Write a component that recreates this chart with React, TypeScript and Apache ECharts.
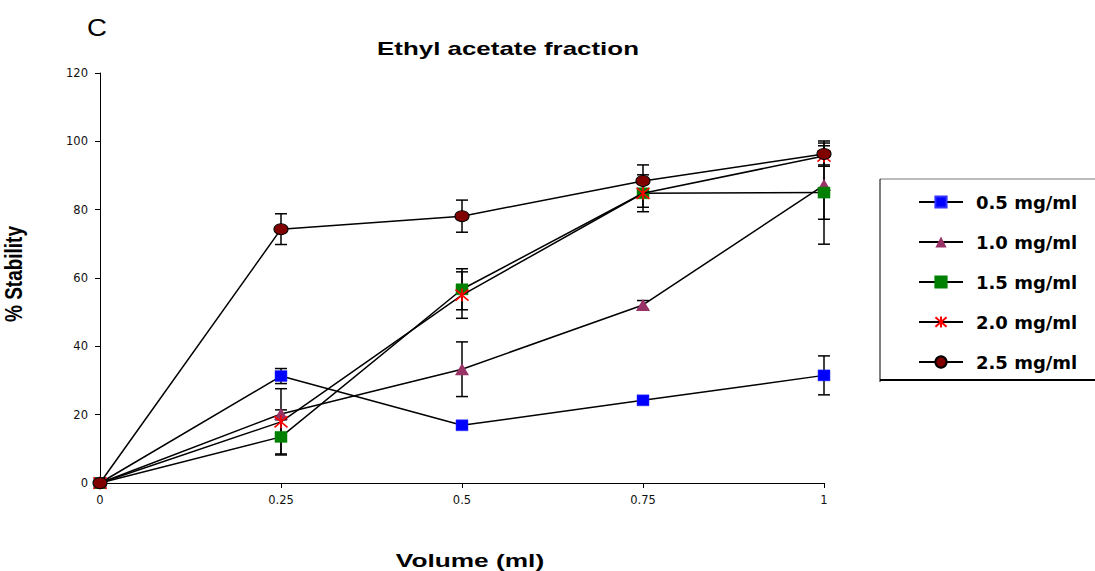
import React, { useEffect, useRef } from "react";
import * as echarts from "echarts";

const volumes = [0, 0.25, 0.5, 0.75, 1];
const seriesNames = ["0.5 mg/ml", "1.0 mg/ml", "1.5 mg/ml", "2.0 mg/ml", "2.5 mg/ml"];
const s05 = [0, 31.3, 16.9, 24.2, 31.5];
const e05 = [0, 2.2, 0, 0, 5.7];
const s10 = [0, 20.2, 33.3, 52.1, 87.2];
const e10 = [0, 1.2, 8.0, 1.3, 10.0];
const s15 = [0, 13.5, 56.7, 84.8, 85.0];
const e15 = [0, 5.0, 6.0, 4.1, 15.1];
const s20 = [0, 17.9, 55.0, 84.8, 95.7];
const e20 = [0, 9.7, 6.8, 5.4, 3.0];
const s25 = [0, 74.3, 78.1, 88.4, 96.3];
const e25 = [0, 4.5, 4.7, 4.7, 3.2];

const FONT = "'Liberation Sans', Arial, Helvetica, sans-serif";
const WIDE = "'DejaVu Sans', 'Liberation Sans', sans-serif";

export default function App() {
  const ref = useRef<HTMLDivElement>(null);
  useEffect(() => {
    if (!ref.current) return;
    const chart = echarts.init(ref.current, undefined, { renderer: "svg" });
    const values = [s05, s10, s15, s20, s25];
    const errs = [e05, e10, e15, e20, e25];
    const symbols: any[] = [
      "rect",
      "triangle",
      "rect",
      "path://M0,-1 L0,1 M-0.85,-0.85 L0.85,0.85 M-0.85,0.85 L0.85,-0.85",
      "circle",
    ];
    const sizes: any[] = [[12, 11], [14, 12], [12, 11], [13, 13], [14, 11]];
    const colors = ["#0000ff", "#993366", "#008000", "none", "#800000"];
    const borders = ["#3333ff", "#993366", "#008000", "#ff0000", "#000000"];
    const borderW = [0.5, 0, 0.5, 1.6, 1];

    const errData: any[] = [];
    values.forEach((vals, si) => {
      vals.forEach((v, i) => {
        if (errs[si][i] > 0) errData.push([volumes[i], v, errs[si][i]]);
      });
    });

    const lineSeries = values.map((vals, si) => ({
      name: seriesNames[si],
      type: "line",
      data: vals.map((v, i) => [volumes[i], v]),
      symbol: symbols[si],
      symbolSize: sizes[si],
      showAllSymbol: true,
      lineStyle: { color: "#000", width: 1.5 },
      itemStyle: { color: colors[si], borderColor: borders[si], borderWidth: borderW[si] },
      z: 3 + si,
    }));

    const errSeries = {
      type: "custom",
      name: "err",
      data: errData,
      z: 2,
      renderItem: (params: any, api: any) => {
        const x = api.value(0);
        const y = api.value(1);
        const e = api.value(2);
        const top = api.coord([x, y + e]);
        const bot = api.coord([x, y - e]);
        const w = 6;
        const st = { stroke: "#000", lineWidth: 1.5 };
        return {
          type: "group",
          children: [
            { type: "line", shape: { x1: top[0], y1: top[1], x2: bot[0], y2: bot[1] }, style: st },
            { type: "line", shape: { x1: top[0] - w, y1: top[1], x2: top[0] + w, y2: top[1] }, style: st },
            { type: "line", shape: { x1: bot[0] - w, y1: bot[1], x2: bot[0] + w, y2: bot[1] }, style: st },
          ],
        };
      },
    };

    chart.setOption({
      animation: false,
      backgroundColor: "#fff",
      textStyle: { fontFamily: FONT },
      grid: { left: 100, top: 73, width: 724, height: 410 },
      xAxis: {
        type: "value",
        min: 0,
        max: 1,
        interval: 0.25,
        splitLine: { show: false },
        axisLine: { lineStyle: { color: "#000", width: 1 } },
        axisTick: { show: true, length: 5, lineStyle: { color: "#000" } },
        axisLabel: { color: "#111", fontSize: 11.5, margin: 11, fontFamily: WIDE },
      },
      yAxis: {
        type: "value",
        min: 0,
        max: 120,
        interval: 20,
        splitLine: { show: false },
        axisLine: { show: true, lineStyle: { color: "#000", width: 1 } },
        axisTick: { show: true, length: 5, lineStyle: { color: "#000" } },
        axisLabel: { color: "#111", fontSize: 11.5, margin: 12, fontFamily: WIDE },
      },
      legend: {
        data: seriesNames,
        orient: "vertical",
        left: 913,
        top: 188,
        itemWidth: 44,
        itemHeight: 14,
        itemGap: 22,
        textStyle: { fontSize: 18, fontWeight: "bold", color: "#000", fontFamily: WIDE, padding: [0, 0, 0, 8] },
        selectedMode: false,
      },
      graphic: [
        { type: "text", x: 97, y: 28, scaleX: 1.15, style: { text: "C", font: `24px ${FONT}`, fill: "#000", align: "center", verticalAlign: "middle" } },
        { type: "text", x: 508, y: 49, scaleX: 1.4, style: { text: "Ethyl acetate fraction", font: `bold 18.5px ${FONT}`, fill: "#000", align: "center", verticalAlign: "middle" } },
        { type: "text", x: 470, y: 560, scaleX: 1.42, style: { text: "Volume (ml)", font: `bold 18.5px ${FONT}`, fill: "#000", align: "center", verticalAlign: "middle" } },
        { type: "text", x: 14, y: 274, rotation: Math.PI / 2, scaleY: 1.3, style: { text: "% Stability", font: `bold 19px ${FONT}`, fill: "#000", align: "center", verticalAlign: "middle" } },
        { type: "line", shape: { x1: 880, y1: 179, x2: 1095, y2: 179 }, style: { stroke: "#777", lineWidth: 1 } },
        { type: "line", shape: { x1: 880, y1: 179, x2: 880, y2: 382 }, style: { stroke: "#000", lineWidth: 1 } },
        { type: "line", shape: { x1: 880, y1: 380, x2: 1095, y2: 380 }, style: { stroke: "#000", lineWidth: 2 } },
      ],
      series: [errSeries, ...lineSeries],
    });
    return () => chart.dispose();
  }, []);
  return <div ref={ref} style={{ position: "fixed", left: 0, top: 0, width: 1095, height: 571 }} />;
}
